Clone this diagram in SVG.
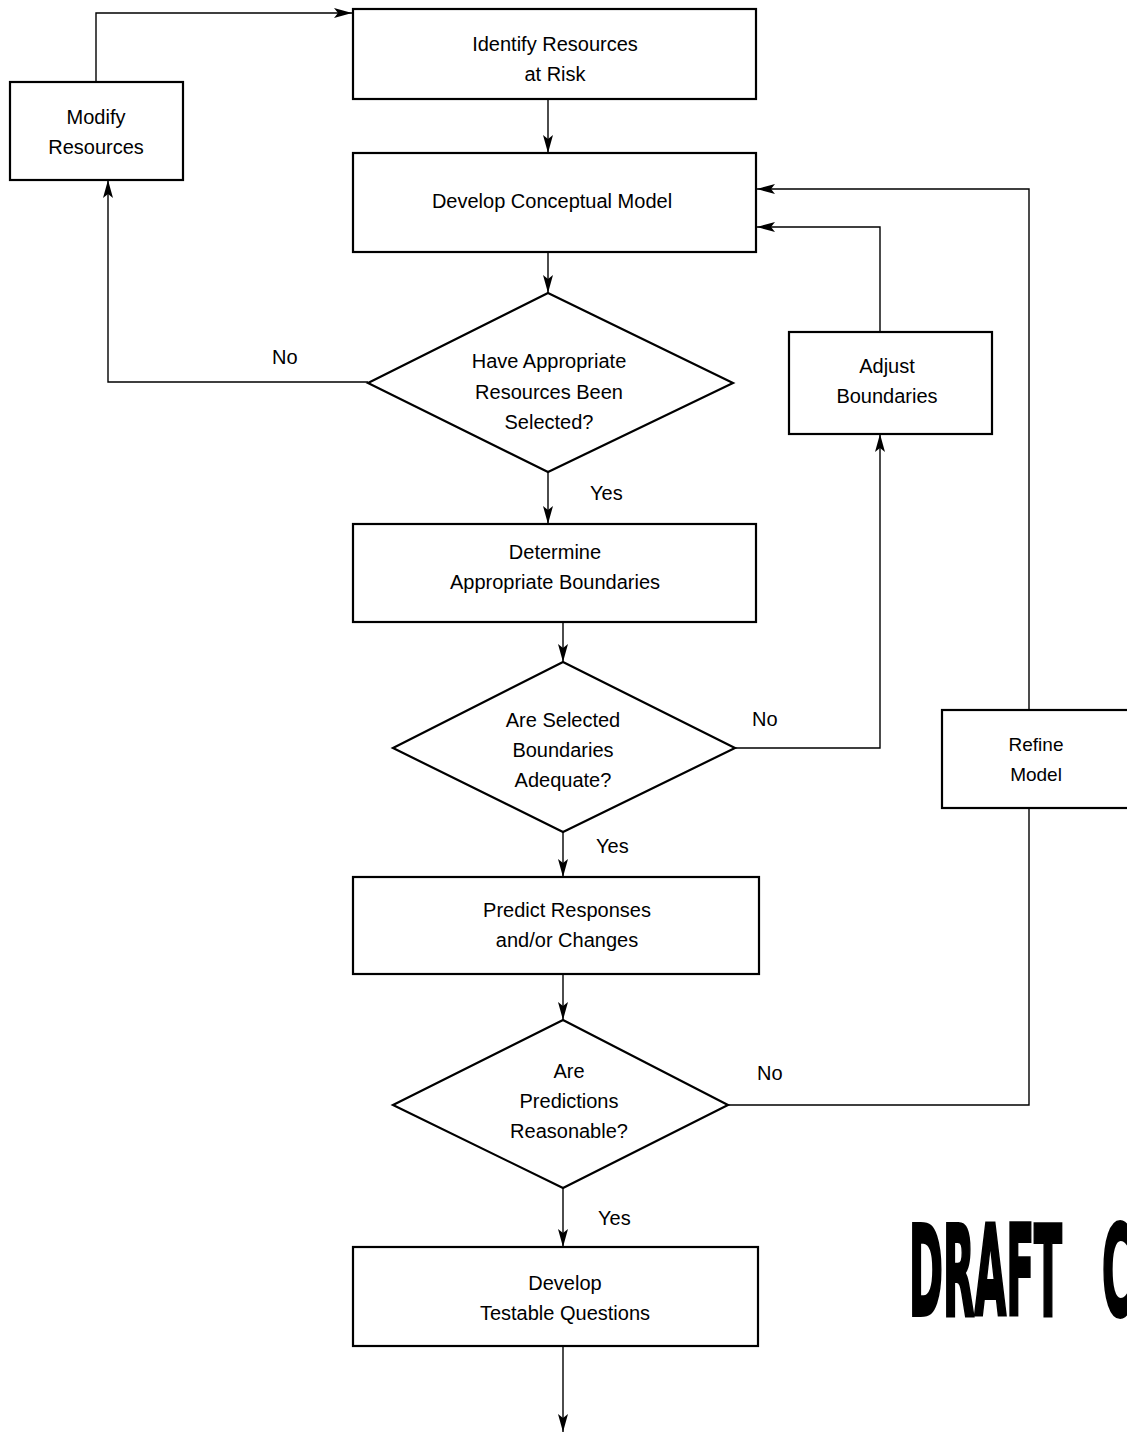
<svg xmlns="http://www.w3.org/2000/svg" width="1127" height="1437" viewBox="0 0 1127 1437">
<style>
.box{fill:#fff;stroke:#000;stroke-width:2.2}
.dia{fill:#fff;stroke:#000;stroke-width:2.2}
.con{fill:none;stroke:#000;stroke-width:1.4}
.t{font-family:"Liberation Sans",Arial,sans-serif;font-size:20px;fill:#000;text-anchor:middle}
.lbl{font-family:"Liberation Sans",Arial,sans-serif;font-size:20px;fill:#000}
</style>
<defs>
<marker id="ah" viewBox="0 0 18 10" refX="18" refY="5" markerWidth="18" markerHeight="10" markerUnits="userSpaceOnUse" orient="auto">
<path d="M0,0 L18,5 L0,10 L4,5 z" fill="#000"/>
</marker>
</defs>
<rect width="1127" height="1437" fill="#fff"/>
<g id="connectors">
<path class="con" d="M96,82 V13 H352" marker-end="url(#ah)"/>
<path class="con" d="M548,99 V153" marker-end="url(#ah)"/>
<path class="con" d="M548,252 V293" marker-end="url(#ah)"/>
<path class="con" d="M368,382 H108 V180" marker-end="url(#ah)"/>
<path class="con" d="M548,472 V524" marker-end="url(#ah)"/>
<path class="con" d="M563,622 V662" marker-end="url(#ah)"/>
<path class="con" d="M735,748 H880 V434" marker-end="url(#ah)"/>
<path class="con" d="M880,332 V227 H757" marker-end="url(#ah)"/>
<path class="con" d="M563,832 V877" marker-end="url(#ah)"/>
<path class="con" d="M563,974 V1020" marker-end="url(#ah)"/>
<path class="con" d="M728,1105 H1029 V808"/>
<path class="con" d="M1029,710 V189 H757" marker-end="url(#ah)"/>
<path class="con" d="M563,1188 V1247" marker-end="url(#ah)"/>
<path class="con" d="M563,1346 V1432" marker-end="url(#ah)"/>
</g>
<g id="identify">
<rect class="box" x="353" y="9" width="403" height="90"/>
<text class="t" x="555" y="51">Identify Resources</text>
<text class="t" x="555" y="81">at Risk</text>
</g>
<g id="modify">
<rect class="box" x="10" y="82" width="173" height="98"/>
<text class="t" x="96" y="124">Modify</text>
<text class="t" x="96" y="154">Resources</text>
</g>
<g id="develop-model">
<rect class="box" x="353" y="153" width="403" height="99"/>
<text class="t" x="552" y="208">Develop Conceptual Model</text>
</g>
<g id="decision-resources">
<polygon class="dia" points="548,293 733,383 548,472 368,383"/>
<text class="t" x="549" y="368">Have Appropriate</text>
<text class="t" x="549" y="399">Resources Been</text>
<text class="t" x="549" y="429">Selected?</text>
</g>
<text class="lbl" x="272" y="364">No</text>
<text class="lbl" x="590" y="500">Yes</text>
<g id="determine">
<rect class="box" x="353" y="524" width="403" height="98"/>
<text class="t" x="555" y="559">Determine</text>
<text class="t" x="555" y="589">Appropriate Boundaries</text>
</g>
<g id="decision-boundaries">
<polygon class="dia" points="563,662 735,748 563,832 393,748"/>
<text class="t" x="563" y="727">Are Selected</text>
<text class="t" x="563" y="757">Boundaries</text>
<text class="t" x="563" y="787">Adequate?</text>
</g>
<text class="lbl" x="752" y="726">No</text>
<text class="lbl" x="596" y="853">Yes</text>
<g id="adjust">
<rect class="box" x="789" y="332" width="203" height="102"/>
<text class="t" x="887" y="373">Adjust</text>
<text class="t" x="887" y="403">Boundaries</text>
</g>
<g id="refine">
<rect class="box" x="942" y="710" width="200" height="98"/>
<text class="t" x="1036" y="751" style="font-size:19px">Refine</text>
<text class="t" x="1036" y="781" style="font-size:19px">Model</text>
</g>
<g id="predict">
<rect class="box" x="353" y="877" width="406" height="97"/>
<text class="t" x="567" y="917">Predict Responses</text>
<text class="t" x="567" y="947">and/or Changes</text>
</g>
<g id="decision-predictions">
<polygon class="dia" points="563,1020 728,1105 563,1188 393,1105"/>
<text class="t" x="569" y="1078">Are</text>
<text class="t" x="569" y="1108">Predictions</text>
<text class="t" x="569" y="1138">Reasonable?</text>
</g>
<text class="lbl" x="757" y="1080">No</text>
<text class="lbl" x="598" y="1225">Yes</text>
<g id="develop-questions">
<rect class="box" x="353" y="1247" width="405" height="99"/>
<text class="t" x="565" y="1290">Develop</text>
<text class="t" x="565" y="1320">Testable Questions</text>
</g>
<text transform="translate(909,1315) scale(0.33,1)" style="font-family:'DejaVu Sans',sans-serif;font-weight:bold;font-size:124px;fill:#000;stroke:#000;stroke-width:4">DRAFT<tspan x="585">C</tspan></text>
</svg>
